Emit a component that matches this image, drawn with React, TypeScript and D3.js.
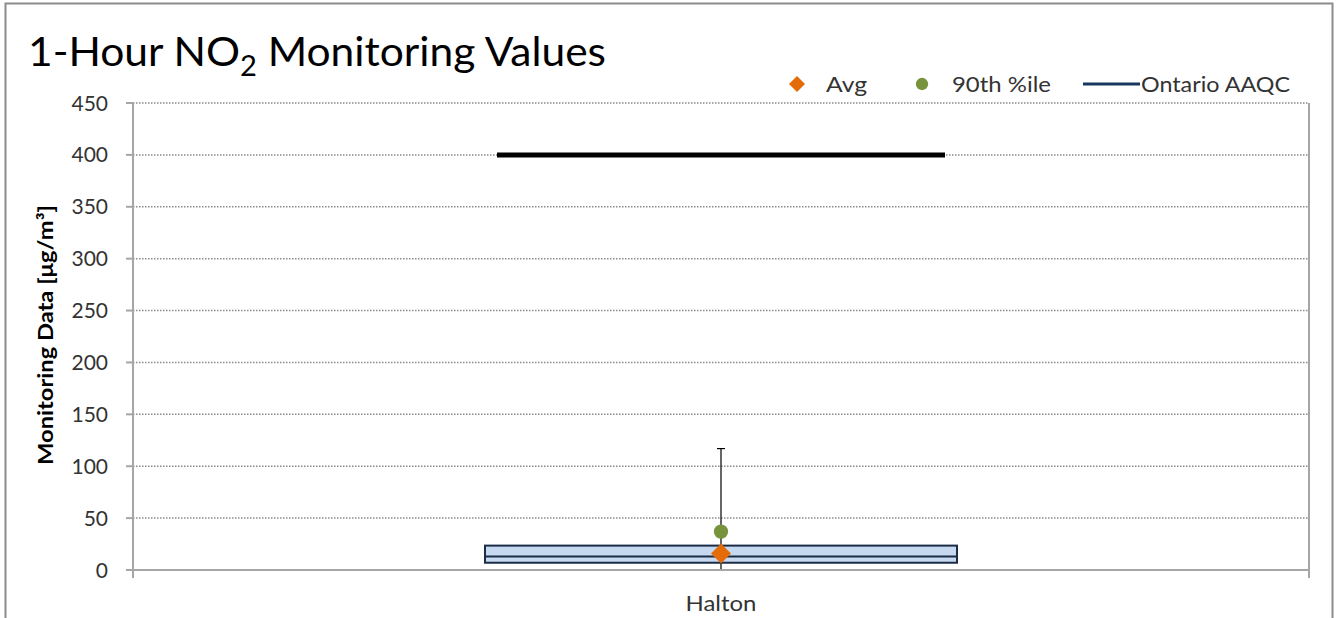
import React from "react";
import * as d3 from "d3";

const categories = ["Halton"];
const minVals = [1];
const q1Vals = [7];
const medianVals = [13];
const q3Vals = [23.5];
const maxVals = [117];
const avgVals = [16];
const p90Vals = [37];
const aaqc = 400;
const yTicks = [0, 50, 100, 150, 200, 250, 300, 350, 400, 450];

const W = 1337, H = 618;
const M = { left: 133, right: 1309, top: 103, bottom: 570 };
const FONT = "Lato, 'Open Sans', sans-serif";

function diamondPath(r: number) {
  const p = d3.path();
  p.moveTo(0, -r); p.lineTo(r, 0); p.lineTo(0, r); p.lineTo(-r, 0); p.closePath();
  return p.toString();
}

export default function App() {
  const y = d3.scaleLinear().domain([0, 450]).range([M.bottom, M.top]);
  const x = d3.scaleBand().domain(categories).range([M.left, M.right]).paddingInner(0).paddingOuter(0);
  const boxW = 472;
  const lineW = 448;
  const circle = d3.symbol().type(d3.symbolCircle).size(160)() as string;
  const legendCircle = d3.symbol().type(d3.symbolCircle).size(120)() as string;

  return (
    <svg width={W} height={H} style={{ position: "absolute", left: 0, top: 0 }}>
      <rect x={0} y={0} width={W} height={H} fill="#fff" />
      <rect x={5.5} y={3.5} width={1327} height={620} fill="none" stroke="#8c8c8c" strokeWidth={2} />
      <text x={28} y={66} fontFamily={FONT} fontSize={41} fill="#000" textLength={578} lengthAdjust="spacingAndGlyphs">
        1-Hour NO<tspan fontSize={28} dy={10}>2</tspan><tspan dy={-10}> Monitoring Values</tspan>
      </text>
      {/* gridlines */}
      {yTicks.filter(t => t > 0).map(t => (
        <line key={t} x1={M.left} x2={M.right} y1={y(t)} y2={y(t)} stroke="#8a8a8a" strokeWidth={1.5} strokeDasharray="1.5,1.5" />
      ))}
      {/* axes */}
      <line x1={M.left} x2={M.left} y1={M.top} y2={M.bottom} stroke="#a6a6a6" strokeWidth={2} />
      <line x1={M.right} x2={M.right} y1={M.top} y2={M.bottom + 8} stroke="#a6a6a6" strokeWidth={2} />
      <line x1={M.left} x2={M.right} y1={M.bottom} y2={M.bottom} stroke="#a6a6a6" strokeWidth={2} />
      <line x1={M.left} x2={M.left} y1={M.bottom} y2={M.bottom + 8} stroke="#a6a6a6" strokeWidth={2} />
      {yTicks.map(t => (
        <g key={t}>
          <line x1={M.left - 7} x2={M.left} y1={y(t)} y2={y(t)} stroke="#a6a6a6" strokeWidth={2} />
          <text x={108} y={y(t)} dy="0.36em" textAnchor="end" fontFamily={FONT} fontSize={21} fill="#333">{t}</text>
        </g>
      ))}
      <text transform={`translate(53,${335}) rotate(-90)`} textAnchor="middle" fontFamily={FONT} fontWeight="bold" fontSize={21} fill="#000" textLength={260} lengthAdjust="spacingAndGlyphs">
        Monitoring Data [μg/m³]
      </text>
      {categories.map((c, i) => {
        const cx = (x(c) as number) + x.bandwidth() / 2;
        return (
          <g key={c}>
            <line x1={cx - lineW / 2} x2={cx + lineW / 2} y1={y(aaqc)} y2={y(aaqc)} stroke="#000" strokeWidth={5} />
            <line x1={cx} x2={cx} y1={y(maxVals[i])} y2={y(minVals[i])} stroke="#000" strokeWidth={1.2} />
            <line x1={cx - 4} x2={cx + 4} y1={y(maxVals[i])} y2={y(maxVals[i])} stroke="#000" strokeWidth={1.2} />
            <rect x={cx - boxW / 2} y={y(q3Vals[i])} width={boxW} height={y(q1Vals[i]) - y(q3Vals[i])} fill="#c6d9f1" stroke="#1b2d45" strokeWidth={2} />
            <line x1={cx - boxW / 2} x2={cx + boxW / 2} y1={y(medianVals[i])} y2={y(medianVals[i])} stroke="#1b2d45" strokeWidth={2} />
            <path d={circle} transform={`translate(${cx},${y(p90Vals[i])})`} fill="#77933c" />
            <path d={diamondPath(10)} transform={`translate(${cx},${y(avgVals[i])})`} fill="#e36c09" />
            <text x={cx} y={611} textAnchor="middle" fontFamily={FONT} fontSize={22} fill="#333" textLength={71} lengthAdjust="spacingAndGlyphs">{c}</text>
          </g>
        );
      })}
      {/* legend */}
      <path d={diamondPath(8)} transform="translate(797,84)" fill="#e36c09" />
      <text x={826} y={84} dy="0.36em" fontFamily={FONT} fontSize={21} fill="#333" textLength={41} lengthAdjust="spacingAndGlyphs">Avg</text>
      <path d={legendCircle} transform="translate(922,84)" fill="#77933c" />
      <text x={952} y={84} dy="0.36em" fontFamily={FONT} fontSize={21} fill="#333" textLength={99} lengthAdjust="spacingAndGlyphs">90th %ile</text>
      <line x1={1083} x2={1140} y1={84} y2={84} stroke="#17375e" strokeWidth={3} />
      <text x={1141} y={84} dy="0.36em" fontFamily={FONT} fontSize={21} fill="#333" textLength={149} lengthAdjust="spacingAndGlyphs">Ontario AAQC</text>
    </svg>
  );
}
